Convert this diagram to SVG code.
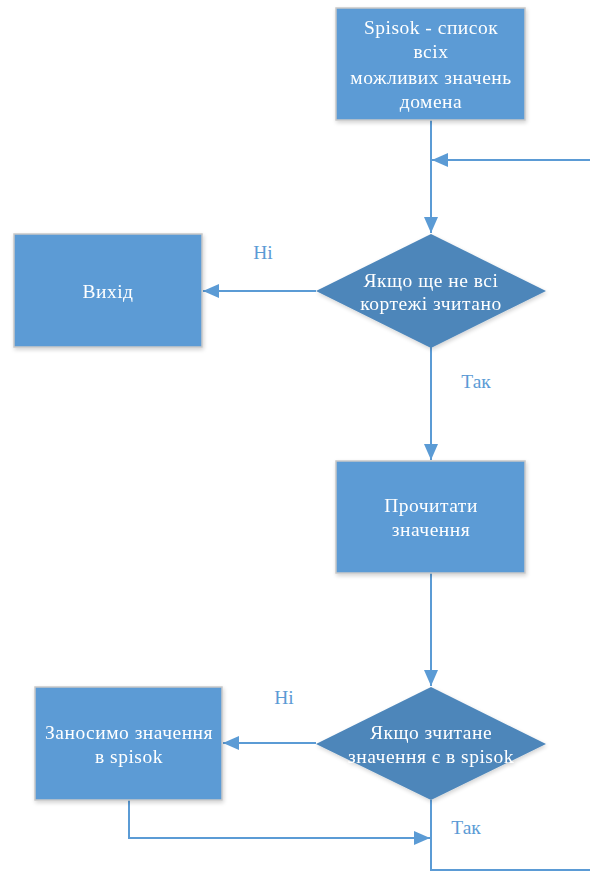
<svg xmlns="http://www.w3.org/2000/svg" width="590" height="872" viewBox="0 0 590 872">
<style>
.box{fill:#5B9BD5;stroke:#C8C8C8;stroke-width:1.5}
.dia{fill:#4D86BA;stroke:none}
.t{font-family:'Liberation Serif',serif;font-size:19.5px;fill:#FFFFFF;text-anchor:middle;letter-spacing:0.5px}
.lbl{font-family:'Liberation Serif',serif;font-size:19.5px;fill:#5B9BD5;text-anchor:middle}
.c{fill:none;stroke:#5B9BD5;stroke-width:2}
</style>
<defs>
<marker id="a" viewBox="0 0 16 14" refX="16" refY="7" markerWidth="16" markerHeight="14" markerUnits="userSpaceOnUse" orient="auto">
<path d="M0,0 L16,7 L0,14 z" fill="#5B9BD5"/>
</marker>
<filter id="sh" x="-10%" y="-10%" width="125%" height="125%">
<feGaussianBlur in="SourceAlpha" stdDeviation="2"/>
<feOffset dx="1" dy="2" result="b"/>
<feComponentTransfer><feFuncA type="linear" slope="0.18"/></feComponentTransfer>
<feMerge><feMergeNode/><feMergeNode in="SourceGraphic"/></feMerge>
</filter>
</defs>
<g id="connectors">
<path class="c" d="M431,120 L431,233" marker-end="url(#a)"/>
<path class="c" d="M590,160 L432,160" marker-end="url(#a)"/>
<path class="c" d="M316,291 L203,291" marker-end="url(#a)"/>
<path class="c" d="M431,347 L431,460" marker-end="url(#a)"/>
<path class="c" d="M431,573 L431,686" marker-end="url(#a)"/>
<path class="c" d="M316,743 L223,743" marker-end="url(#a)"/>
<path class="c" d="M129,800 L129,838 L430,838" marker-end="url(#a)"/>
<path class="c" d="M431,800 L431,870 L590,870"/>
<text class="lbl" x="263" y="259">Ні</text>
<text class="lbl" x="476" y="388">Так</text>
<text class="lbl" x="284" y="704">Ні</text>
<text class="lbl" x="466" y="834">Так</text>
</g>
<g id="start" filter="url(#sh)">
<rect class="box" x="336" y="8" width="189" height="112"/>
<text class="t" x="431" y="34">Spisok - список</text>
<text class="t" x="431" y="58">всіх</text>
<text class="t" x="431" y="84">можливих значень</text>
<text class="t" x="431" y="108">домена</text>
</g>
<g id="cond1" filter="url(#sh)">
<polygon class="dia" points="431,234 546,291 431,348 316,291"/>
<text class="t" x="431" y="287">Якщо ще не всі</text>
<text class="t" x="431" y="310">кортежі зчитано</text>
</g>
<g id="exit" filter="url(#sh)">
<rect class="box" x="14" y="234" width="188" height="113"/>
<text class="t" x="108" y="298">Вихід</text>
</g>
<g id="read" filter="url(#sh)">
<rect class="box" x="336" y="461" width="189" height="112"/>
<text class="t" x="431" y="512">Прочитати</text>
<text class="t" x="431" y="536">значення</text>
</g>
<g id="cond2" filter="url(#sh)">
<polygon class="dia" points="431,687 546,744 431,800 316,744"/>
<text class="t" x="431" y="739">Якщо зчитане</text>
<text class="t" x="431" y="763">значення є в spisok</text>
</g>
<g id="add" filter="url(#sh)">
<rect class="box" x="35" y="687" width="187" height="113"/>
<text class="t" x="129" y="739">Заносимо значення</text>
<text class="t" x="129" y="763">в spisok</text>
</g>
</svg>
